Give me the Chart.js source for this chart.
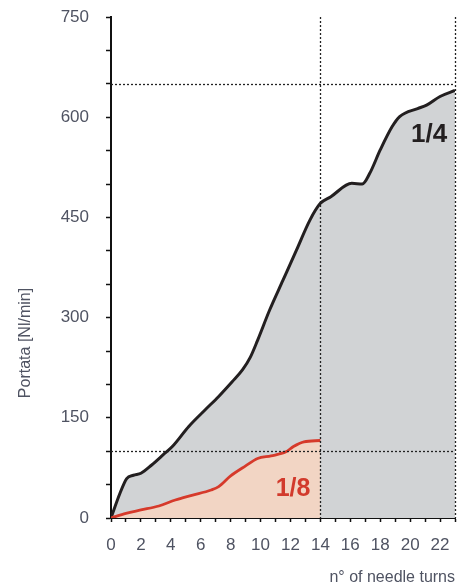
<!DOCTYPE html>
<html>
<head>
<meta charset="utf-8">
<script src="https://cdn.jsdelivr.net/npm/chart.js@4"></script>
<style>
  html, body { margin: 0; padding: 0; background: #fff; }
  #wrap { width: 464px; height: 588px; }
</style>
</head>
<body>
<div id="wrap"><canvas id="flowChart" width="464" height="588"></canvas></div>
<script>
// needle turns / flow
const quarterTurns = [0, 0.6, 1.05, 1.5, 2, 2.7, 3.6, 4.1, 5.2, 6.3, 7.2, 8.1, 8.8, 9.3, 9.8, 10.6, 11.5, 12.4, 13.3, 14, 14.7, 16.1, 16.8, 17.3, 18, 18.8, 19.3, 20.5, 21.1, 22, 23];
const quarterFlow  = [0, 37, 59, 64, 67, 79, 97, 107, 137, 162, 182, 204, 222, 240, 266, 311, 356, 401, 446, 471, 481, 501, 500, 516, 551, 586, 601, 613, 618, 631, 640];

const eighthTurns = [0, 1, 2, 3.2, 4.3, 5.4, 6.7, 7.2, 8, 9, 9.8, 10.7, 11.7, 12.2, 12.9, 14];
const eighthFlow  = [0, 7, 12, 18, 27, 34, 42, 47, 63, 78, 89, 93, 99, 107, 114, 116];

const xTickLabels = [0, 2, 4, 6, 8, 10, 12, 14, 16, 18, 20, 22];
const yTickLabels = [0, 150, 300, 450, 600, 750];
const refLinesX = [14, 23];
const refLinesY = [100, 650];

const FONT = "'Liberation Sans Narrow', 'Liberation Sans', Arial, sans-serif";
const TEXT_COLOR = "#4f5362";

function toPoints(xs, ys) {
    return xs.map((x, i) => ({ x: x, y: ys[i] }));
}

// dashed reference lines + curve labels + axis titles
const decorations = {
    id: "decorations",
    afterDatasetsDraw(chart) {
        const { ctx, chartArea, scales } = chart;
        const xs = scales.x, ys = scales.y;
        ctx.save();
        ctx.strokeStyle = "#222";
        ctx.lineWidth = 1.3;
        ctx.setLineDash([2, 2]);
        refLinesX.forEach(v => {
            const px = Math.round(xs.getPixelForValue(v)) + 0.5;
            ctx.beginPath();
            ctx.moveTo(px, chartArea.top);
            ctx.lineTo(px, chartArea.bottom);
            ctx.stroke();
        });
        refLinesY.forEach(v => {
            const py = Math.round(ys.getPixelForValue(v)) + 0.5;
            ctx.beginPath();
            ctx.moveTo(chartArea.left, py);
            ctx.lineTo(chartArea.right, py);
            ctx.stroke();
        });
        ctx.setLineDash([]);

        ctx.textAlign = "center";
        ctx.textBaseline = "middle";
        ctx.font = "bold 26px " + FONT;
        ctx.fillStyle = "#231f20";
        ctx.fillText("1/4", xs.getPixelForValue(21.27), ys.getPixelForValue(573));
        ctx.font = "bold 25px " + FONT;
        ctx.fillStyle = "#d23a2c";
        ctx.fillText("1/8", xs.getPixelForValue(12.17), ys.getPixelForValue(43));

        ctx.fillStyle = TEXT_COLOR;
        ctx.font = "16px " + FONT;
        ctx.textAlign = "right";
        ctx.textBaseline = "middle";
        ctx.fillText("n° of needle turns", chartArea.right, 578);

        ctx.translate(26, 343);
        ctx.rotate(-Math.PI / 2);
        ctx.textAlign = "center";
        ctx.fillText("Portata [Nl/min]", 0, 0);
        ctx.restore();
    }
};

const chart = new Chart(document.getElementById("flowChart"), {
    type: "line",
    data: {
        datasets: [
            {
                label: "1/8",
                data: toPoints(eighthTurns, eighthFlow),
                borderColor: "#d63a2b",
                backgroundColor: "#f2d5c4",
                borderWidth: 2.8,
                fill: "origin",
                pointRadius: 0,
                cubicInterpolationMode: "monotone"
            },
            {
                label: "1/4",
                data: toPoints(quarterTurns, quarterFlow),
                borderColor: "#231f20",
                backgroundColor: "#d1d3d5",
                borderWidth: 3,
                fill: "origin",
                pointRadius: 0,
                cubicInterpolationMode: "monotone"
            }
        ]
    },
    options: {
        responsive: false,
        animation: false,
        devicePixelRatio: 1,
        layout: { padding: { top: 17, right: 9, left: 0, bottom: 0 } },
        plugins: {
            legend: { display: false },
            tooltip: { enabled: false }
        },
        scales: {
            x: {
                type: "linear",
                min: 0,
                max: 23,
                afterFit(scale) {
                    scale.height = 70;
                    scale.paddingLeft = 0;
                    scale.paddingRight = 0;
                },
                border: { color: "#111", width: 2, dash: [2, 1] },
                grid: { drawOnChartArea: false, drawTicks: true, tickLength: 4, color: "#111", tickWidth: 1.5 },
                ticks: {
                    stepSize: 1,
                    autoSkip: false,
                    maxRotation: 0,
                    includeBounds: false,
                    padding: 13,
                    color: TEXT_COLOR,
                    font: { family: FONT, size: 17 },
                    callback: v => xTickLabels.includes(v) ? String(v) : ""
                }
            },
            y: {
                min: 0,
                max: 750,
                afterFit(scale) {
                    scale.width = 111;
                    scale.paddingTop = 0;
                    scale.paddingBottom = 0;
                },
                border: { color: "#111", width: 2, dash: [2, 1] },
                grid: { drawOnChartArea: false, drawTicks: true, tickLength: 5, color: "#111", tickWidth: 1.5 },
                ticks: {
                    stepSize: 50,
                    autoSkip: false,
                    padding: 17,
                    color: TEXT_COLOR,
                    font: { family: FONT, size: 17 },
                    callback: v => yTickLabels.includes(v) ? String(v) : ""
                }
            }
        }
    },
    plugins: [decorations]
});
</script>
</body>
</html>
